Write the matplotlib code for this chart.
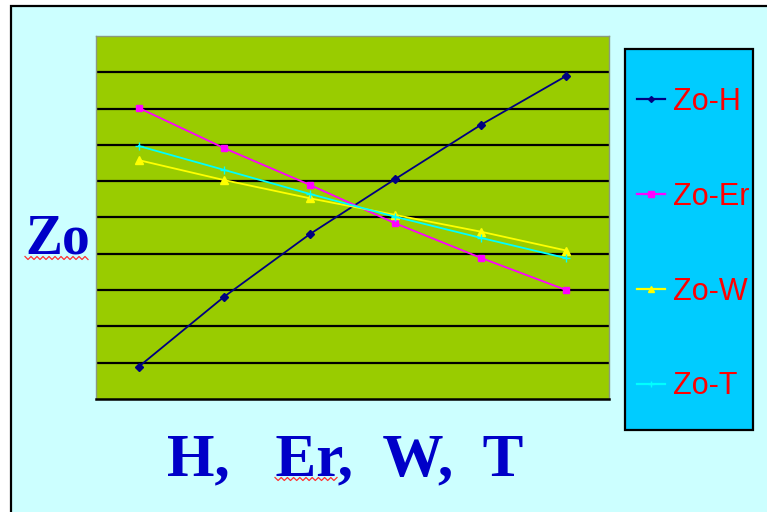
import numpy as np
import matplotlib
matplotlib.use("Agg")
import matplotlib.pyplot as plt
from matplotlib.patches import Rectangle
from matplotlib.lines import Line2D

# ---- data ----
points = [0, 1, 2, 3, 4, 5]
zo_h = [0.89, 2.82, 4.54, 6.06, 7.55, 8.90]
zo_er = [8.02, 6.91, 5.90, 4.84, 3.89, 3.00]
zo_w = [6.58, 6.03, 5.53, 5.07, 4.61, 4.09]
zo_t = [6.97, 6.31, 5.65, 5.02, 4.44, 3.88]
series_names = ["Zo-H", "Zo-Er", "Zo-W", "Zo-T"]
y_label = "Zo"
x_label = "H,   Er,  W,  T"

W_PX, H_PX = 767, 512
fig = plt.figure(figsize=(W_PX / 100, H_PX / 100), dpi=100)
fig.patch.set_facecolor("white")

def fx(px):
    return px / W_PX

def fy(py):
    return 1 - py / H_PX

# slide background with black border (extends beyond right/bottom)
fig.patches.append(Rectangle((fx(11), -0.1), 1.2, fy(6) + 0.1,
                             transform=fig.transFigure, facecolor="#CCFFFF",
                             edgecolor="black", linewidth=1.6, zorder=-5))

ax = fig.add_axes([fx(96), fy(399), fx(609) - fx(96), fy(36) - fy(399)])
ax.set_zorder(2)
ax.set_facecolor("#99CC00")
ax.set_xlim(-0.5, 5.5)
ax.set_ylim(0, 10)
ax.set_yticks(np.arange(1, 10))
ax.yaxis.grid(True, color="black", linewidth=1.6)
ax.set_axisbelow(True)
ax.tick_params(left=False, bottom=False, labelleft=False, labelbottom=False)
for s in ["top", "left", "right"]:
    ax.spines[s].set_color("#8a9a80")
    ax.spines[s].set_linewidth(1.0)
ax.spines["bottom"].set_color("black")
ax.spines["bottom"].set_linewidth(1.8)

styles = [
    (zo_h, "#000080", "D", 4),
    (zo_er, "#FF00FF", "s", 5),
    (zo_w, "#FFFF00", "^", 6),
    (zo_t, "#00FFFF", "+", 6),
]
handles = []
for (vals, col, mk, ms), name in zip(styles, series_names):
    ax.plot(points, vals, color=col, linewidth=1.3, marker=mk,
            markersize=ms, markerfacecolor=col, markeredgecolor=col,
            label=name, clip_on=False)
    handles.append(Line2D([0], [0], color=col, linewidth=1.6, marker=mk,
                          markersize=ms - 1, markerfacecolor=col,
                          markeredgecolor=col))

# legend box
fig.patches.append(Rectangle((fx(625), fy(430)), fx(753) - fx(625), fy(49) - fy(430),
                             transform=fig.transFigure, facecolor="#00CCFF",
                             edgecolor="black", linewidth=1.6, zorder=1))
leg = fig.legend(handles, series_names, loc="upper left",
                 bbox_to_anchor=(fx(637), fy(87)), bbox_transform=fig.transFigure,
                 frameon=False, borderpad=0, borderaxespad=0,
                 handlelength=0.9, handletextpad=0.28, labelspacing=2.12,
                 prop={"family": "Liberation Sans", "size": 22})
for t in leg.get_texts():
    t.set_color("#FF0000")
leg.set_zorder(3)

blue = "#0000C8"
fig.text(fx(25), fy(253), y_label, ha="left", va="baseline",
         fontfamily="Liberation Serif", fontweight="bold", fontsize=40, color=blue)
fig.text(fx(345), fy(475), x_label, ha="center", va="baseline",
         fontfamily="Liberation Serif", fontweight="bold", fontsize=44, color=blue)

# red spell-check squiggles (decoration)
def squiggle(x0, x1, y):
    n = int((x1 - x0) / 3)
    xs = np.linspace(x0, x1, n + 1)
    ys = np.where(np.arange(n + 1) % 2 == 0, y - 1.5, y + 1.5)
    fig.add_artist(Line2D([fx(v) for v in xs], [fy(v) for v in ys],
                          transform=fig.transFigure, color="#FF3030", linewidth=0.9))

squiggle(25, 88, 258)
squiggle(275, 337, 479)

fig.savefig("out.png", dpi=100, facecolor=fig.get_facecolor())
